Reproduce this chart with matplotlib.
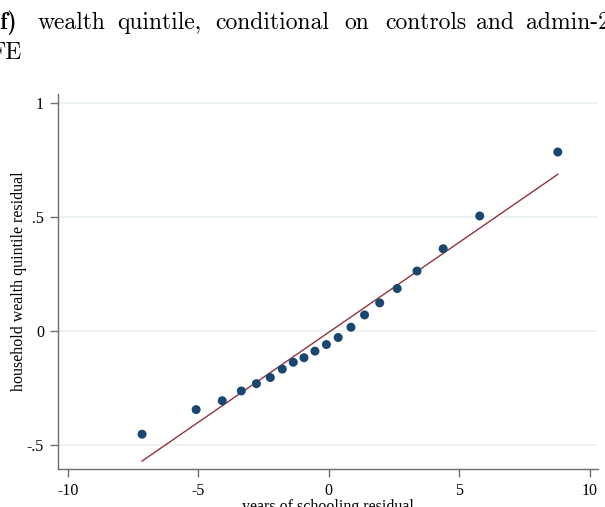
import numpy as np
import matplotlib
matplotlib.use("Agg")
import matplotlib.pyplot as plt

# binned scatter (20 bins)
x_bins = [-7.15, -5.08, -4.08, -3.35, -2.77, -2.24, -1.78, -1.36, -0.95, -0.53,
          -0.09, 0.36, 0.85, 1.37, 1.95, 2.62, 3.38, 4.38, 5.78, 8.77]
y_bins = [-0.454, -0.346, -0.307, -0.264, -0.232, -0.205, -0.168, -0.138, -0.118, -0.089,
          -0.060, -0.029, 0.016, 0.070, 0.123, 0.186, 0.263, 0.361, 0.505, 0.786]
# linear fit line end points
fit_x = [-7.15, 8.77]
fit_y = [-0.572, 0.688]

xticks = [-10, -5, 0, 5, 10]
xticklabels = ["-10", "-5", "0", "5", "10"]
yticks = [-0.5, 0, 0.5, 1]
yticklabels = ["-.5", "0", ".5", "1"]

W, H = 605, 507
fig = plt.figure(figsize=(W / 100, H / 100), dpi=100)
ax = fig.add_axes([58 / W, 1 - 469 / H, 540 / W, 375 / H])

ax.plot(fit_x, fit_y, color="#90353b", lw=1.0, zorder=2)
ax.scatter(x_bins, y_bins, s=42, color="#1a476f", edgecolors="none", zorder=3)

ax.set_xlim(-10.37, 10.31)
ax.set_ylim(-0.607, 1.041)
ax.set_xticks(xticks)
ax.set_xticklabels(xticklabels)
ax.set_yticks(yticks)
ax.set_yticklabels(yticklabels)
for t in yticks:
    ax.axhline(t, color="#eaf2f3", lw=1.2, zorder=0)

for s in ["top", "right"]:
    ax.spines[s].set_visible(False)
for s in ["left", "bottom"]:
    ax.spines[s].set_color("#6e6e6e")
    ax.spines[s].set_linewidth(1.0)
ax.tick_params(direction="out", length=6, width=1.0, color="#6e6e6e",
               labelsize=11.5, pad=4)
for lab in ax.get_xticklabels() + ax.get_yticklabels():
    lab.set_family("Liberation Serif")

ax.set_xlabel("years of schooling residual", family="Liberation Serif", fontsize=11.5, labelpad=0)
ax.set_ylabel("household wealth quintile residual", family="Liberation Serif", fontsize=11.5, labelpad=0)

# title, justified LaTeX-style text cut at the page edges
fig.text(-8 / W, 1 - 29 / H, "(f)", family="cmb10", fontsize=17, va="baseline")
words = ["wealth", "quintile,", "conditional", "on", "controls", "and", "admin-2"]
word_x = [38, 117, 215, 344, 385, 476, 526]
for w, xp in zip(words, word_x):
    fig.text(xp / W, 1 - 29 / H, w, family="cmr10", fontsize=17, va="baseline")
fig.text(-10 / W, 1 - 59 / H, "FE", family="cmr10", fontsize=17, va="baseline")

fig.savefig("out.png", dpi=100)
